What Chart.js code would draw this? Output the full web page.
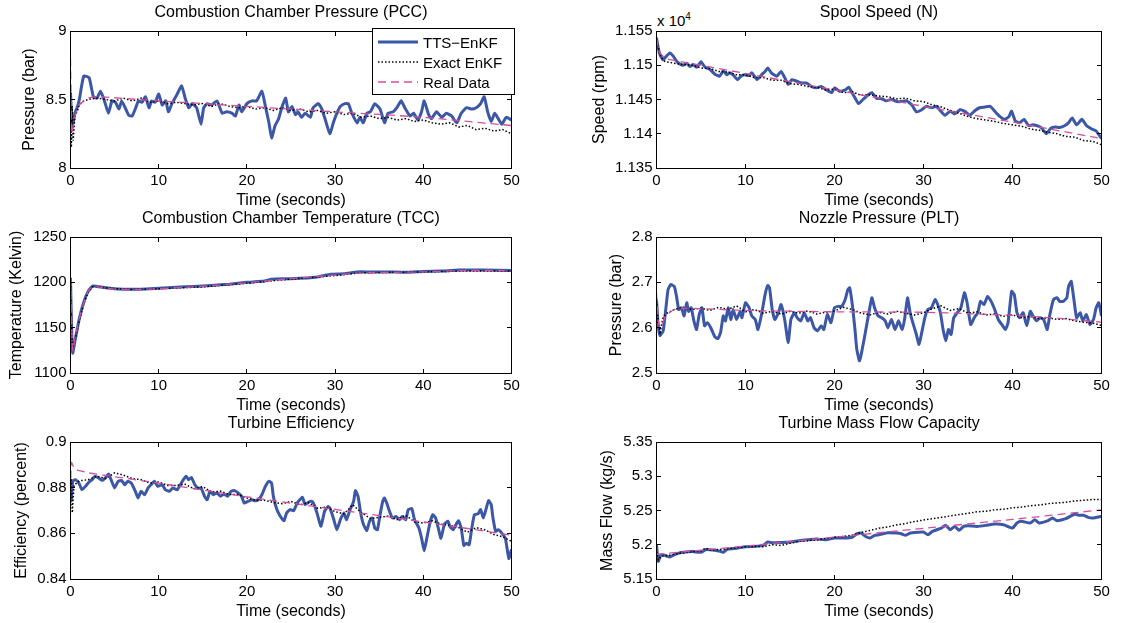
<!DOCTYPE html>
<html><head><meta charset="utf-8">
<script src="https://cdn.jsdelivr.net/npm/chart.js@4.4.0/dist/chart.umd.min.js"></script>
<style>
html,body{margin:0;padding:0;background:#fff;}
#wrap{position:relative;width:1122px;height:623px;overflow:hidden;background:#fff;}
canvas.sp{position:absolute;}
#legend{position:absolute;left:372px;top:28px;width:143px;height:67px;box-sizing:border-box;border:1px solid #000;background:#fff;font:15px "Liberation Sans",Arial,sans-serif;color:#000;z-index:5;}
.lrow{position:absolute;left:0;height:20px;display:flex;align-items:center;white-space:nowrap;}
#exp{position:absolute;left:657px;top:12px;font:15px "Liberation Sans",Arial,sans-serif;line-height:18px;color:#000;}
#exp sup{font-size:10px;vertical-align:6px;line-height:0;}
</style></head><body><div id="wrap"><div id="legend"></div><div id="exp">x 10<sup>4</sup></div></div>
<script>
// ---------------- DATA ----------------
const legendLabels = ['TTS\u2212EnKF', 'Exact EnKF', 'Real Data'];

// Combustion Chamber Pressure (bar)
const pccTts = [[0,8.55],[0.2,8.3],[0.5,8.4],[0.8,8.45],[1.0,8.5],[1.5,8.67],[2.1,8.66],[2.45,8.56],[2.6,8.52],[3.0,8.51],[3.4,8.56],[3.8,8.50],[4.3,8.40],[4.7,8.49],[5.1,8.48],[5.5,8.43],[5.8,8.49],[6.2,8.44],[6.6,8.385],[7.0,8.38],[7.4,8.44],[7.7,8.49],[8.1,8.48],[8.5,8.52],[8.9,8.44],[9.2,8.49],[9.6,8.48],[10,8.54],[10.4,8.46],[10.8,8.49],[11.1,8.41],[11.5,8.47],[12.1,8.54],[12.6,8.60],[13.0,8.51],[13.4,8.44],[13.8,8.47],[14.3,8.44],[14.8,8.32],[15.1,8.44],[15.5,8.47],[16.0,8.46],[16.6,8.49],[17.2,8.40],[17.7,8.41],[18.3,8.40],[18.7,8.38],[19.1,8.46],[19.4,8.41],[20.0,8.47],[20.6,8.49],[21.1,8.49],[21.7,8.56],[22.1,8.45],[22.5,8.33],[22.8,8.22],[23.2,8.31],[23.6,8.36],[24.0,8.45],[24.4,8.51],[24.7,8.41],[25.1,8.45],[25.5,8.39],[25.8,8.41],[26.2,8.37],[26.6,8.40],[27.2,8.37],[27.5,8.44],[28.1,8.47],[28.5,8.43],[28.9,8.35],[29.4,8.25],[29.8,8.33],[30.2,8.40],[30.6,8.45],[31.1,8.47],[31.5,8.47],[31.9,8.40],[32.5,8.33],[32.8,8.37],[33.2,8.33],[33.6,8.40],[34.0,8.41],[34.5,8.47],[35.1,8.43],[35.6,8.33],[36.0,8.40],[36.6,8.41],[37.0,8.44],[37.5,8.49],[37.9,8.44],[38.5,8.38],[38.9,8.40],[39.4,8.35],[39.8,8.41],[40.1,8.49],[40.6,8.39],[40.9,8.36],[41.5,8.41],[42.1,8.37],[42.6,8.40],[43.2,8.38],[43.8,8.33],[44.3,8.40],[44.9,8.44],[45.5,8.43],[46.0,8.44],[46.5,8.47],[46.9,8.52],[47.3,8.41],[47.7,8.34],[48.1,8.40],[48.5,8.36],[48.9,8.32],[49.4,8.37],[50,8.35]];
const pccExact = [[0,8.6],[0.1,8.15],[0.2,8.45],[0.3,8.2],[0.5,8.38],[0.8,8.42],[1,8.46],[1.5,8.49],[2,8.5],[3,8.51],[4,8.5],[5,8.49],[6,8.51],[7,8.49],[8,8.51],[9,8.48],[10,8.49],[11,8.47],[12,8.48],[13,8.47],[14,8.46],[15,8.47],[16,8.45],[17,8.47],[18,8.45],[19,8.44],[20,8.45],[21,8.43],[22,8.44],[23,8.42],[24,8.44],[25,8.42],[26,8.43],[27,8.41],[28,8.42],[29,8.40],[30,8.41],[31,8.39],[32,8.40],[33,8.37],[34,8.38],[35,8.36],[36,8.37],[37,8.35],[38,8.36],[39,8.34],[40,8.35],[41,8.33],[42,8.32],[43,8.33],[44,8.30],[45,8.31],[46,8.28],[47,8.29],[48,8.27],[49,8.28],[50,8.25]];
const pccReal = [[0,8.8],[0.15,8.25],[0.5,8.38],[1,8.46],[2,8.51],[3,8.52],[10,8.49],[20,8.45],[30,8.41],[40,8.37],[50,8.31]];

// Spool Speed (rpm)
const spoolTts = [[0,11540],[0.2,11525],[0.4,11515],[0.75,11508],[1.1,11513],[1.5,11518],[1.9,11513],[2.25,11506],[2.6,11502],[3.0,11500],[3.4,11503],[3.75,11498],[4.1,11501],[4.5,11497],[5.0,11505],[5.4,11498],[6.0,11494],[6.55,11487],[7.1,11484],[7.5,11492],[7.9,11486],[8.2,11489],[8.6,11486],[9.1,11479],[9.5,11484],[9.9,11486],[10.4,11485],[10.7,11489],[11.3,11479],[11.8,11486],[12.2,11491],[12.5,11496],[12.9,11489],[13.5,11484],[14.0,11491],[14.4,11482],[14.8,11472],[15.2,11479],[15.7,11477],[16.3,11474],[16.9,11474],[17.4,11469],[18.0,11467],[18.5,11469],[19.1,11464],[19.7,11460],[20.0,11467],[20.6,11462],[21.2,11464],[21.6,11468],[22.1,11457],[22.7,11444],[23.2,11450],[23.8,11457],[24.2,11460],[24.7,11452],[25.3,11451],[25.8,11448],[26.4,11450],[27.0,11447],[27.5,11447],[28.1,11448],[28.7,11442],[29.2,11432],[29.8,11435],[30.3,11440],[30.9,11438],[31.5,11440],[31.8,11435],[32.4,11427],[33.0,11433],[33.5,11429],[34.1,11435],[34.6,11433],[35.2,11427],[35.8,11434],[36.3,11438],[36.9,11439],[37.5,11440],[38.0,11433],[38.6,11425],[39.1,11421],[39.6,11425],[39.9,11433],[40.3,11419],[40.8,11416],[41.3,11421],[41.8,11412],[42.3,11413],[42.9,11411],[43.3,11408],[43.8,11400],[44.3,11408],[44.8,11410],[45.3,11409],[45.9,11412],[46.3,11416],[46.7,11423],[47.2,11413],[47.8,11421],[48.3,11412],[48.9,11407],[49.4,11404],[50,11393]];
const spoolExact = [[0,11540],[0.3,11520],[0.6,11510],[1,11505],[2,11503],[3,11501],[4,11500],[5,11496],[6,11495],[7,11491],[8,11490],[9,11486],[10,11486],[11,11482],[12,11482],[13,11478],[14,11478],[15,11473],[16,11472],[17,11469],[18,11468],[19,11464],[20,11465],[21,11460],[22,11461],[23,11456],[24,11457],[25,11455],[26,11454],[27,11451],[28,11452],[29,11448],[30,11447],[31,11442],[32,11439],[33,11434],[34,11430],[35,11425],[36,11422],[37,11420],[38,11418],[39,11415],[40,11413],[41,11411],[42,11407],[43,11405],[44,11402],[45,11400],[46,11396],[47,11395],[48,11390],[49,11389],[50,11384]];
const spoolReal = [[0,11540],[0.3,11520],[1,11510],[2,11507],[10,11488],[20,11464],[30,11440],[40,11417],[50,11393]];

// Combustion Chamber Temperature (K)
const tccTts = [[0,1205],[0.1,1160],[0.25,1122],[0.5,1135],[1,1160],[1.5,1178],[2,1190],[2.5,1196],[3,1195.5],[4,1194],[5,1193],[6,1192.5],[7,1192.3],[8,1192.5],[10,1193.5],[12,1194.5],[14,1195.5],[16,1196.5],[18,1198],[20,1200],[22,1201.5],[22.8,1203.5],[25,1204],[28,1206],[29.5,1209],[31,1209.5],[32.5,1211.5],[34,1211.5],[36,1211.5],[38,1211],[40,1212],[42,1212.5],[44,1213.5],[47,1213.5],[50,1213]];
const tccExact = [[0,1200],[0.2,1128],[0.5,1136],[1,1158],[1.5,1176],[2,1189],[2.5,1195],[3,1195],[5,1193],[7,1192],[10,1193],[15,1195],[20,1199],[25,1203.5],[30,1207.5],[33,1210.5],[36,1211],[40,1211.5],[45,1212.5],[50,1212.5]];
const tccReal = [[0,1205],[0.25,1125],[0.5,1138],[1,1160],[1.5,1177],[2,1190],[2.5,1195],[3,1195],[5,1192.5],[7,1192],[10,1193],[15,1195.5],[20,1199.5],[25,1204],[30,1208],[33,1210.5],[40,1211.5],[45,1213],[50,1213]];

// Nozzle Pressure (bar)
const pltTts = [[0,2.662],[0.2,2.604],[0.4,2.583],[0.75,2.593],[1.0,2.633],[1.3,2.684],[1.6,2.695],[2.0,2.691],[2.25,2.669],[2.5,2.640],[2.8,2.644],[3.1,2.626],[3.4,2.655],[3.6,2.636],[3.9,2.644],[4.2,2.615],[4.5,2.596],[4.8,2.629],[5.1,2.644],[5.4,2.604],[5.7,2.611],[6.1,2.600],[6.55,2.580],[6.9,2.576],[7.2,2.589],[7.5,2.626],[7.75,2.615],[8.05,2.644],[8.35,2.618],[8.6,2.640],[9.0,2.618],[9.4,2.636],[9.6,2.622],[10.0,2.655],[10.4,2.644],[10.7,2.626],[11.1,2.618],[11.4,2.596],[11.8,2.629],[12.2,2.673],[12.5,2.693],[12.7,2.688],[13.0,2.640],[13.3,2.618],[13.7,2.633],[14.0,2.651],[14.4,2.618],[14.8,2.567],[15.1,2.618],[15.5,2.633],[15.8,2.622],[16.2,2.615],[16.6,2.633],[17.0,2.615],[17.3,2.622],[17.7,2.600],[18.1,2.593],[18.5,2.604],[18.8,2.596],[19.2,2.629],[19.6,2.611],[20.0,2.644],[20.4,2.647],[20.8,2.647],[21.2,2.662],[21.5,2.684],[21.7,2.688],[22.0,2.651],[22.3,2.596],[22.5,2.553],[22.8,2.527],[23.0,2.541],[23.4,2.582],[23.8,2.626],[24.2,2.666],[24.5,2.644],[24.9,2.626],[25.3,2.622],[25.7,2.615],[26.0,2.600],[26.4,2.618],[26.8,2.596],[27.2,2.615],[27.6,2.596],[27.9,2.622],[28.2,2.666],[28.5,2.633],[28.8,2.611],[29.2,2.585],[29.5,2.563],[29.8,2.589],[30.2,2.626],[30.5,2.640],[30.9,2.644],[31.3,2.662],[31.6,2.651],[31.9,2.633],[32.2,2.596],[32.5,2.571],[32.8,2.596],[33.1,2.585],[33.4,2.622],[33.8,2.633],[34.2,2.644],[34.6,2.677],[34.9,2.655],[35.3,2.607],[35.7,2.622],[36.1,2.633],[36.4,2.658],[36.8,2.651],[37.2,2.669],[37.6,2.658],[38.0,2.640],[38.4,2.618],[38.8,2.607],[39.2,2.596],[39.5,2.611],[39.9,2.680],[40.2,2.673],[40.5,2.633],[40.8,2.622],[41.2,2.633],[41.6,2.604],[42.0,2.636],[42.3,2.626],[42.7,2.615],[43.1,2.622],[43.5,2.618],[43.9,2.596],[44.2,2.629],[44.6,2.662],[45.0,2.666],[45.3,2.658],[45.7,2.658],[46.1,2.666],[46.3,2.691],[46.6,2.702],[46.9,2.662],[47.2,2.622],[47.6,2.633],[47.9,2.615],[48.3,2.629],[48.7,2.607],[49.1,2.618],[49.4,2.644],[49.7,2.655],[50,2.626]];
const pltExact = [[0,2.66],[0.2,2.61],[0.4,2.59],[0.7,2.62],[1,2.63],[2,2.64],[3,2.645],[4,2.64],[5,2.643],[6,2.638],[7,2.645],[8,2.64],[9,2.648],[10,2.635],[11,2.64],[12,2.632],[13,2.636],[14,2.63],[15,2.636],[16,2.632],[17,2.637],[18,2.63],[19,2.634],[20,2.637],[21,2.645],[22,2.64],[23,2.632],[24,2.628],[25,2.634],[26,2.63],[27,2.636],[28,2.632],[29,2.628],[30,2.633],[31,2.642],[32,2.648],[33,2.638],[34,2.642],[35,2.632],[36,2.635],[37,2.628],[38,2.63],[39,2.625],[40,2.628],[41,2.622],[42,2.625],[43,2.62],[44,2.622],[45,2.618],[46,2.62],[47,2.615],[48,2.612],[49,2.61],[50,2.605]];
const pltReal = [[0,2.675],[0.3,2.60],[0.6,2.605],[1,2.625],[2,2.64],[3,2.643],[5,2.642],[10,2.638],[20,2.635],[30,2.634],[35,2.631],[40,2.627],[45,2.621],[50,2.612]];

// Turbine Efficiency
const effTts = [[0,0.8806],[0.1,0.8747],[0.25,0.8828],[0.55,0.8835],[0.95,0.882],[1.3,0.8791],[1.7,0.8806],[2.1,0.8825],[2.45,0.8835],[2.8,0.885],[3.2,0.8842],[3.6,0.8832],[4.0,0.8845],[4.3,0.886],[4.6,0.8835],[5.0,0.8799],[5.4,0.8828],[5.8,0.8831],[6.15,0.8813],[6.5,0.8828],[6.9,0.882],[7.35,0.8784],[7.65,0.8755],[8.0,0.8784],[8.4,0.8769],[8.8,0.8799],[9.2,0.8816],[9.5,0.8828],[9.9,0.8806],[10.4,0.8813],[10.75,0.8791],[11.2,0.8784],[11.6,0.8799],[12.1,0.8791],[12.45,0.8813],[12.8,0.8835],[13.1,0.885],[13.4,0.8835],[13.7,0.8845],[14.1,0.8813],[14.5,0.8796],[14.8,0.8799],[15.2,0.8762],[15.5,0.8747],[15.8,0.8784],[16.2,0.8769],[16.6,0.8777],[17.0,0.8762],[17.4,0.8772],[17.8,0.8762],[18.2,0.8784],[18.6,0.8787],[19.0,0.8777],[19.4,0.8762],[19.7,0.8733],[20.1,0.874],[20.6,0.8747],[20.9,0.8743],[21.3,0.8747],[21.7,0.8769],[22.1,0.8806],[22.5,0.8828],[22.8,0.882],[23.0,0.8762],[23.4,0.8704],[23.8,0.8674],[24.2,0.8655],[24.5,0.8689],[24.9,0.8704],[25.3,0.8699],[25.7,0.8733],[26.0,0.8747],[26.3,0.8758],[26.6,0.8726],[27.0,0.8737],[27.4,0.874],[27.7,0.8718],[28.0,0.8682],[28.4,0.8631],[28.8,0.8696],[29.2,0.8718],[29.4,0.8711],[29.8,0.8667],[30.2,0.8616],[30.6,0.866],[31.0,0.8689],[31.3,0.866],[31.7,0.8704],[32.1,0.874],[32.3,0.8787],[32.6,0.8762],[32.9,0.8689],[33.2,0.8641],[33.6,0.8612],[33.9,0.8653],[34.2,0.8667],[34.5,0.8623],[34.8,0.8616],[35.1,0.8682],[35.4,0.874],[35.6,0.8755],[35.9,0.8728],[36.1,0.8704],[36.5,0.8667],[36.9,0.8674],[37.3,0.866],[37.6,0.8674],[38.0,0.866],[38.3,0.8704],[38.7,0.8708],[39.0,0.866],[39.3,0.8638],[39.5,0.8623],[39.8,0.8579],[40.1,0.8524],[40.4,0.8579],[40.8,0.8653],[41.1,0.8682],[41.4,0.8667],[41.7,0.8623],[42.0,0.8579],[42.4,0.8641],[42.8,0.8653],[43.0,0.8631],[43.4,0.8616],[43.7,0.8638],[44.0,0.8655],[44.3,0.8623],[44.6,0.8547],[44.9,0.8557],[45.2,0.855],[45.5,0.8623],[45.8,0.8682],[46.2,0.8685],[46.5,0.8704],[46.8,0.8667],[47.1,0.8704],[47.4,0.8743],[47.7,0.8726],[47.9,0.8667],[48.2,0.8609],[48.5,0.8616],[48.9,0.8601],[49.3,0.8579],[49.7,0.849],[50,0.853]];
const effExact = [[0,0.872],[0.1,0.884],[0.2,0.869],[0.4,0.881],[1,0.883],[2,0.8835],[3,0.885],[4,0.884],[5,0.8865],[6,0.8855],[7,0.884],[8,0.8835],[9,0.882],[10,0.8825],[11,0.881],[12,0.881],[13,0.8815],[14,0.8795],[15,0.8805],[16,0.878],[17,0.8785],[18,0.877],[19,0.877],[20,0.8755],[21,0.8745],[22,0.8745],[23,0.8735],[24,0.873],[25,0.874],[26,0.8725],[27,0.8735],[28,0.871],[29,0.8715],[30,0.8695],[31,0.8685],[32,0.8725],[33,0.869],[34,0.8665],[35,0.867],[36,0.8675],[37,0.866],[38,0.868],[39,0.865],[40,0.8645],[41,0.8655],[42,0.864],[43,0.8635],[44,0.8625],[45,0.8605],[46,0.8625],[47,0.8615],[48,0.8595],[49,0.8585],[50,0.8565]];
const effReal = [[0,0.8725],[0.1,0.891],[0.5,0.888],[1,0.8875],[2,0.8865],[10,0.882],[20,0.876],[30,0.8705],[40,0.865],[50,0.8592]];

// Turbine Mass Flow Capacity (kg/s)
const massTts = [[0,5.2],[0.2,5.1756],[0.5,5.1854],[1,5.1844],[1.5,5.182],[2,5.1854],[2.5,5.1878],[3,5.189],[4,5.19],[5,5.189],[5.5,5.1927],[6,5.1927],[7,5.191],[7.5,5.189],[8,5.1937],[9,5.195],[10,5.197],[11,5.1975],[12,5.199],[12.5,5.204],[13,5.203],[14,5.2034],[15,5.204],[16,5.206],[17,5.2073],[18,5.2083],[19,5.2073],[20,5.2098],[21,5.2098],[22,5.211],[22.5,5.216],[23,5.217],[23.5,5.212],[24,5.2098],[24.5,5.2137],[25,5.2146],[26,5.2176],[27,5.217],[27.5,5.216],[28,5.2137],[28.5,5.217],[29,5.218],[30,5.2185],[30.5,5.2146],[31,5.2195],[32,5.2244],[32.5,5.2283],[33,5.222],[33.5,5.2268],[34,5.221],[34.5,5.2268],[35,5.2278],[36,5.2268],[37,5.2283],[38,5.2303],[39,5.2293],[40,5.2244],[40.5,5.2317],[41,5.2342],[42,5.2317],[42.5,5.2366],[43,5.2317],[44,5.2351],[44.5,5.239],[45,5.2351],[46,5.238],[47,5.2449],[47.5,5.243],[48,5.243],[48.5,5.24],[49,5.239],[50,5.2415]];
const massExact = [[0,5.19],[0.2,5.178],[0.5,5.183],[1,5.184],[2,5.186],[3,5.188],[4,5.19],[5,5.191],[5.5,5.195],[6,5.192],[7,5.193],[8,5.194],[9,5.196],[10,5.197],[11,5.198],[12,5.197],[13,5.2],[14,5.199],[15,5.202],[16,5.205],[17,5.206],[18,5.207],[19,5.209],[20,5.211],[21,5.212],[22,5.214],[23,5.218],[24,5.221],[25,5.224],[26,5.226],[27,5.229],[28,5.231],[29,5.234],[30,5.236],[31,5.238],[32,5.24],[33,5.242],[34,5.244],[35,5.246],[36,5.248],[37,5.249],[38,5.251],[39,5.252],[40,5.254],[41,5.255],[42,5.257],[43,5.258],[44,5.26],[45,5.261],[46,5.262],[47,5.264],[48,5.265],[49,5.266],[50,5.266]];
const massReal = [[0,5.186],[10,5.198],[20,5.211],[30,5.224],[40,5.237],[50,5.251]];

// ---------------- STYLE / LAYOUT ----------------
const FONT = '"Liberation Sans", Arial, Helvetica, sans-serif';
const BLUE = '#3b57a6', PINK = '#d2509e', BLACK = '#000000';
const COLS = { left: {L: 6, W: 570, yw: 64.5}, right: {L: 585, W: 588, yw: 71.5} };
const ROWS = [{T: 3, H: 207}, {T: 209, H: 206}, {T: 414, H: 207}];

const fmt = v => String(parseFloat(Number(v).toFixed(4)));

const boxPlugin = {
  id: 'matlabBox',
  afterDraw(chart) {
    const {ctx, chartArea: a} = chart;
    const x0 = Math.floor(a.left) + 0.5, x1 = Math.floor(a.right) + 0.5;
    const y0 = Math.floor(a.top) + 0.5, y1 = Math.floor(a.bottom) + 0.5;
    ctx.save();
    ctx.strokeStyle = '#000'; ctx.lineWidth = 1; ctx.setLineDash([]);
    ctx.strokeRect(x0, y0, x1 - x0, y1 - y0);
    const tl = 4.5;
    ctx.beginPath();
    const sx = chart.scales.x, sy = chart.scales.y;
    sx.ticks.forEach(t => { const p = Math.floor(sx.getPixelForValue(t.value)) + 0.5;
      ctx.moveTo(p, y1); ctx.lineTo(p, y1 - tl); ctx.moveTo(p, y0); ctx.lineTo(p, y0 + tl); });
    sy.ticks.forEach(t => { const p = Math.floor(sy.getPixelForValue(t.value)) + 0.5;
      ctx.moveTo(x0, p); ctx.lineTo(x0 + tl, p); ctx.moveTo(x1, p); ctx.lineTo(x1 - tl, p); });
    ctx.stroke();
    ctx.restore();
  }
};

const toXY = arr => arr.map(p => ({x: p[0], y: p[1]}));

function makeChart(s) {
  const col = COLS[s.col], row = ROWS[s.row];
  const c = document.createElement('canvas');
  c.className = 'sp';
  c.width = col.W; c.height = row.H;
  Object.assign(c.style, {left: col.L + 'px', top: row.T + 'px', width: col.W + 'px', height: row.H + 'px'});
  document.getElementById('wrap').appendChild(c);
  const tickFmt = s.scale ? (v => fmt(v / s.scale)) : fmt;
  return new Chart(c, {
    type: 'line',
    data: { datasets: [
      {label: legendLabels[0], data: toXY(s.tts), borderColor: BLUE, borderWidth: 3, pointRadius: 0, tension: 0.15, order: 3, clip: 0, fill: false},
      {label: legendLabels[1], data: toXY(s.exact), borderColor: BLACK, borderWidth: 1.5, borderDash: [1.5, 2], pointRadius: 0, tension: 0, order: 2, clip: 0, fill: false},
      {label: legendLabels[2], data: toXY(s.real), borderColor: PINK, borderWidth: 1.3, borderDash: [8, 5], pointRadius: 0, tension: 0.2, order: 1, clip: 0, fill: false}
    ]},
    options: {
      responsive: false, animation: false, devicePixelRatio: 1,
      layout: {padding: 0},
      plugins: {
        legend: {display: false}, tooltip: {enabled: false},
        title: {display: true, text: s.title, color: '#000', font: {family: FONT, size: 16, weight: 'normal'}, padding: {top: 0, bottom: 8.8}}
      },
      scales: {
        x: {type: 'linear', position: 'bottom', min: 0, max: 50,
          ticks: {stepSize: 10, color: '#000', font: {family: FONT, size: 15}, padding: 4, maxRotation: 0, autoSkip: false, callback: v => fmt(v)},
          grid: {display: false, drawTicks: false}, border: {display: false},
          title: {display: true, text: 'Time (seconds)', color: '#000', font: {family: FONT, size: 16}, padding: 0},
          afterFit: sc => { sc.height = 42; }},
        y: {type: 'linear', position: 'left', min: s.ymin, max: s.ymax,
          ticks: {stepSize: s.step, color: '#000', font: {family: FONT, size: 15}, padding: 4, autoSkip: false, callback: tickFmt},
          grid: {display: false, drawTicks: false}, border: {display: false},
          title: {display: true, text: s.ylabel, color: '#000', font: {family: FONT, size: 16}, padding: {top: s.ytp, bottom: 0}},
          afterFit: sc => { sc.width = col.yw; }},
        y2: {type: 'linear', position: 'right', display: true,
          ticks: {display: false}, grid: {display: false, drawTicks: false}, border: {display: false},
          afterFit: sc => { sc.width = col.yw; }}
      }
    },
    plugins: [boxPlugin]
  });
}

const pccChart = makeChart({col: 'left', row: 0, title: 'Combustion Chamber Pressure (PCC)', ylabel: 'Pressure (bar)', ymin: 8, ymax: 9, step: 0.5, ytp: 13.7, tts: pccTts, exact: pccExact, real: pccReal});
makeChart({col: 'right', row: 0, title: 'Spool Speed (N)', ylabel: 'Speed (rpm)', ymin: 11350, ymax: 11550, step: 50, scale: 1e4, ytp: 5, tts: spoolTts, exact: spoolExact, real: spoolReal});
makeChart({col: 'left', row: 1, title: 'Combustion Chamber Temperature (TCC)', ylabel: 'Temperature (Kelvin)', ymin: 1100, ymax: 1250, step: 50, ytp: 1.4, tts: tccTts, exact: tccExact, real: tccReal});
makeChart({col: 'right', row: 1, title: 'Nozzle Pressure (PLT)', ylabel: 'Pressure (bar)', ymin: 2.5, ymax: 2.8, step: 0.1, ytp: 22, tts: pltTts, exact: pltExact, real: pltReal});
makeChart({col: 'left', row: 2, title: 'Turbine Efficiency', ylabel: 'Efficiency (percent)', ymin: 0.84, ymax: 0.9, step: 0.02, ytp: 6, tts: effTts, exact: effExact, real: effReal});
makeChart({col: 'right', row: 2, title: 'Turbine Mass Flow Capacity', ylabel: 'Mass Flow (kg/s)', ymin: 5.15, ymax: 5.35, step: 0.05, ytp: 13, tts: massTts, exact: massExact, real: massReal});

// HTML legend built from the first chart's datasets
const leg = document.getElementById('legend');
pccChart.data.datasets.forEach((d, i) => {
  const row = document.createElement('div');
  row.className = 'lrow'; row.style.top = (3 + i * 20) + 'px';
  const cv = document.createElement('canvas');
  cv.width = 40; cv.height = 10; cv.style.marginLeft = '5px'; cv.style.width = '40px'; cv.style.height = '10px';
  const g = cv.getContext('2d');
  g.strokeStyle = d.borderColor; g.lineWidth = d.borderWidth; g.setLineDash(d.borderDash || []);
  g.beginPath(); g.moveTo(0, 5); g.lineTo(40, 5); g.stroke();
  const sp = document.createElement('span');
  sp.textContent = d.label; sp.style.marginLeft = '5px';
  row.append(cv, sp); leg.appendChild(row);
});
</script>
</body></html>
